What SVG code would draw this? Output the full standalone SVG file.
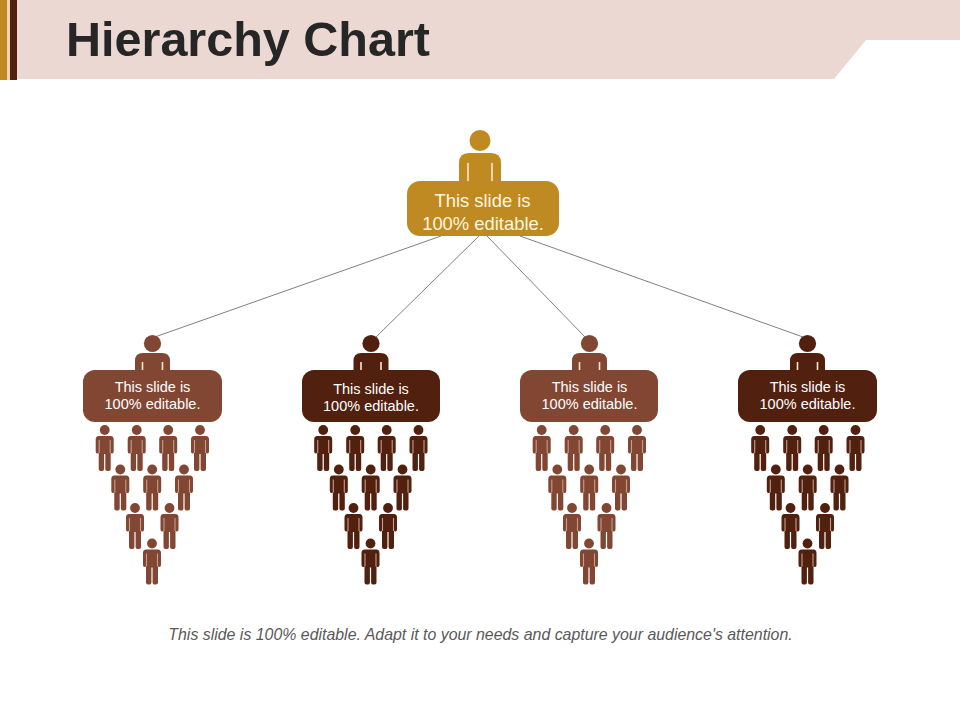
<svg xmlns="http://www.w3.org/2000/svg" width="960" height="720" viewBox="0 0 960 720">
<style>
.gold{fill:#bf8a22}.brown{fill:#824733}.dark{fill:#52200f}
.link{stroke:#808080;stroke-width:1;fill:none}
.t{font-family:"Liberation Sans",Arial,sans-serif;fill:#fff;text-anchor:middle}
.t1{font-size:18.4px;fill:#fff6dd}.t2{font-size:14.5px}
.gap{stroke:#fbe6c8;stroke-width:1.6}
.sgap{stroke:#c79c8a;stroke-width:1.1}
</style>
<defs>
<g id="p">
<circle cx="0" cy="0" r="4.9"/>
<path d="M-6 6H6Q9 6 9 9.5V21.5Q9 23.5 7.4 23.5Q6 23.5 6 22.5V39Q6 41 4 41H2.4Q0.6 41 0.6 39V24H-0.6V39Q-0.6 41 -2.4 41H-4Q-6 41 -6 39V22.5Q-6 23.5 -7.4 23.5Q-9 23.5 -9 21.5V9.5Q-9 6 -6 6Z"/>
<path class="sgap" d="M-5.5 10V23M5.5 10V23"/>
</g>
<g id="crowd">
<use href="#p" x="-47.3" y="430"/><use href="#p" x="-15.3" y="430"/><use href="#p" x="16.2" y="430"/><use href="#p" x="48" y="430"/>
<use href="#p" x="-31.7" y="469.5"/><use href="#p" x="0.2" y="469.5"/><use href="#p" x="32" y="469.5"/>
<use href="#p" x="-17" y="508"/><use href="#p" x="17.5" y="508"/>
<use href="#p" x="0" y="543.5"/>
</g>
<g id="mid">
<circle cx="0" cy="343.5" r="8.6"/>
<path d="M-17.5 371V361Q-17.5 353 -9.5 353H9.5Q17.5 353 17.5 361V371Z"/>
<path class="gap" d="M-10 362V370M10 362V370"/>
</g>
</defs>
<g id="header">
<path d="M0 0H960V40H866L834 79H0Z" fill="#ecd8d2"/>
<rect x="0" y="0" width="7" height="80" fill="#bf8a22"/>
<rect x="7" y="0" width="3" height="80" fill="#f3d3b5"/>
<rect x="10" y="0" width="7" height="80" fill="#52200f"/>
<text x="66" y="56" font-family="'Liberation Sans',Arial,sans-serif" font-weight="700" font-size="48" fill="#262626" textLength="364" lengthAdjust="spacingAndGlyphs">Hierarchy Chart</text>
</g>
<g id="connectors">
<path class="link" d="M441 236L152 338M479 236L375 338M487 236L586 338M520 236L803 337"/>
</g>
<g id="top" class="gold">
<circle cx="480" cy="140.5" r="10.5"/>
<path d="M459 182V163Q459 153 469 153H491Q501 153 501 163V182Z"/>
<path class="gap" d="M468 163V181M492 163V181"/>
<rect x="407" y="181" width="152" height="55" rx="13"/>
<text class="t t1" x="482.5" y="207">This slide is</text>
<text class="t t1" x="483" y="230">100% editable.</text>
</g>
<g id="node1" class="brown">
<use href="#mid" x="152.5"/>
<rect x="83" y="370" width="139" height="52" rx="12"/>
<text class="t t2" x="152.5" y="392">This slide is</text>
<text class="t t2" x="152.5" y="409">100% editable.</text>
</g>
<g id="node2" class="dark">
<use href="#mid" x="371"/>
<rect x="302" y="370" width="138" height="52" rx="12"/>
<text class="t t2" x="371" y="394">This slide is</text>
<text class="t t2" x="371" y="411">100% editable.</text>
</g>
<g id="node3" class="brown">
<use href="#mid" x="589.5"/>
<rect x="520" y="370" width="138" height="52" rx="12"/>
<text class="t t2" x="589.5" y="392">This slide is</text>
<text class="t t2" x="589.5" y="409">100% editable.</text>
</g>
<g id="node4" class="dark">
<use href="#mid" x="807.5"/>
<rect x="738" y="370" width="139" height="52" rx="12"/>
<text class="t t2" x="807.5" y="392">This slide is</text>
<text class="t t2" x="807.5" y="409">100% editable.</text>
</g>
<g id="crowd1" class="brown"><use href="#crowd" x="152"/></g>
<g id="crowd2" class="dark"><use href="#crowd" x="370.5"/></g>
<g id="crowd3" class="brown"><use href="#crowd" x="589"/></g>
<g id="crowd4" class="dark"><use href="#crowd" x="807.5"/></g>
<g id="footer">
<text x="480.5" y="640" font-family="'Liberation Sans',Arial,sans-serif" font-style="italic" font-size="15.9" fill="#595959" text-anchor="middle">This slide is 100% editable. Adapt it to your needs and capture your audience's attention.</text>
</g>
</svg>
